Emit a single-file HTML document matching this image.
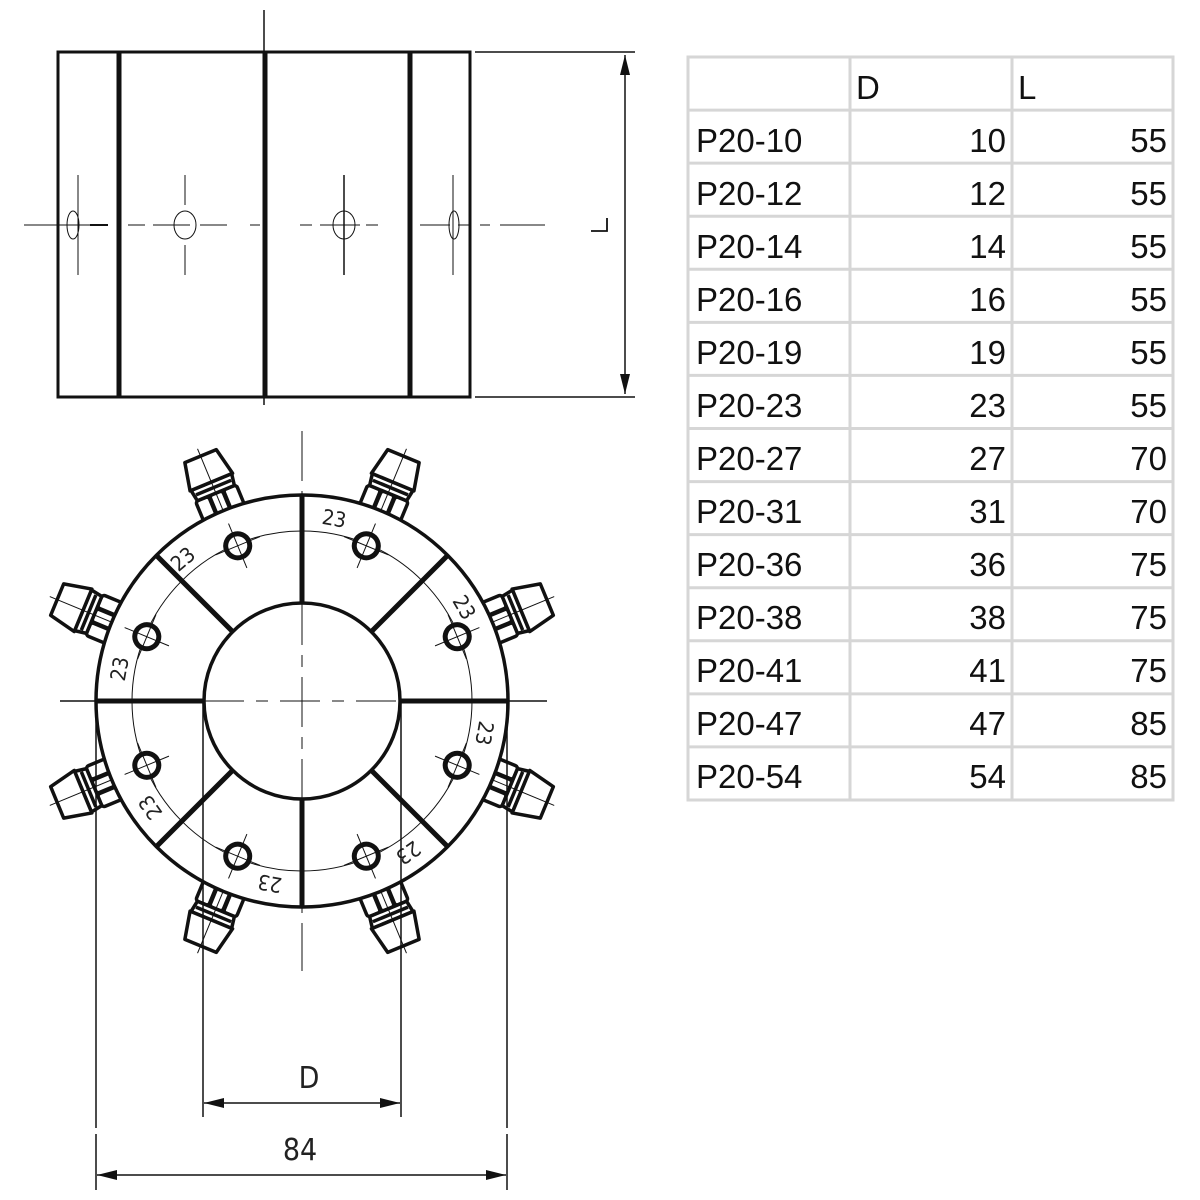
<!DOCTYPE html>
<html><head><meta charset="utf-8"><style>
html,body{margin:0;padding:0;background:#fff;}
svg{display:block;}
</style></head><body>
<svg width="1200" height="1200" viewBox="0 0 1200 1200" xmlns="http://www.w3.org/2000/svg">
<defs>
<g id="bolt" fill="#fff" stroke="#111" stroke-width="3.5" stroke-linejoin="round">
  <rect x="-22" y="-20" width="14" height="22" rx="3"/>
  <rect x="-7" y="-20" width="14" height="22" rx="3"/>
  <rect x="8" y="-20" width="14" height="22" rx="3"/>
  <path d="M-20,-20 L20,-20 L22,-32 L-22,-32 Z"/>
  <line x1="-19" y1="-26" x2="19" y2="-26"/>
  <path d="M-23,-32 L23,-32 L17,-60 L-17,-60 Z"/>
  <line x1="0" y1="-68" x2="0" y2="40" stroke-width="1"/>
</g>
<g id="hole">
  <circle cx="0" cy="0" r="12" fill="#fff" stroke="#111" stroke-width="5"/>
  <line x1="0" y1="-24" x2="0" y2="24" stroke="#111" stroke-width="1"/>
  <line x1="-24" y1="0" x2="24" y2="0" stroke="#111" stroke-width="1"/>
</g>
<marker id="ar" viewBox="0 0 20 10" refX="20" refY="5" markerWidth="20" markerHeight="10" markerUnits="userSpaceOnUse" orient="auto-start-reverse">
  <path d="M0,0 L20,5 L0,10 Z" fill="#111"/>
</marker>
</defs>

<!-- TOP VIEW -->
<g stroke="#111" fill="none">
  <line x1="264" y1="10" x2="264" y2="405" stroke-width="1.5"/>
  <rect x="58" y="52" width="412" height="345" stroke-width="3"/>
  <line x1="119" y1="52" x2="119" y2="397" stroke-width="5"/>
  <line x1="265" y1="52" x2="265" y2="397" stroke-width="5"/>
  <line x1="410" y1="52" x2="410" y2="397" stroke-width="5"/>
  <line x1="475" y1="52" x2="635" y2="52" stroke-width="1.5"/>
  <line x1="475" y1="397" x2="635" y2="397" stroke-width="1.5"/>
  <line x1="625" y1="55" x2="625" y2="394" stroke-width="1.5" marker-start="url(#ar)" marker-end="url(#ar)"/>
  <path d="M591,231 L607,231 L607,218" stroke-width="1.8"/>
  <line x1="24" y1="225" x2="90" y2="225" stroke-width="1"/>
  <line x1="90" y1="225" x2="108" y2="225" stroke-width="2"/>
  <g stroke-width="1">
    <line x1="128" y1="225" x2="145" y2="225"/><line x1="153" y1="225" x2="190" y2="225"/><line x1="200" y1="225" x2="227" y2="225"/>
    <line x1="250" y1="225" x2="260" y2="225"/>
    <line x1="300" y1="225" x2="312" y2="225"/><line x1="320" y1="225" x2="360" y2="225"/><line x1="366" y1="225" x2="378" y2="225"/>
    <line x1="420" y1="225" x2="450" y2="225"/><line x1="458" y1="225" x2="470" y2="225"/>
    <line x1="480" y1="225" x2="490" y2="225"/><line x1="500" y1="225" x2="545" y2="225"/>
    <line x1="78" y1="175" x2="78" y2="275"/>
    <line x1="185" y1="175" x2="185" y2="205"/><line x1="185" y1="245" x2="185" y2="275"/>
    <line x1="453" y1="175" x2="453" y2="275"/>
  </g>
  <line x1="344" y1="175" x2="344" y2="275" stroke-width="1.5"/>
  <ellipse cx="73" cy="225" rx="6" ry="14" stroke-width="1"/>
  <ellipse cx="185" cy="225" rx="11" ry="14" stroke-width="1"/>
  <ellipse cx="344" cy="225" rx="11" ry="14" stroke-width="1"/>
  <ellipse cx="454" cy="225" rx="5" ry="14" stroke-width="1"/>
</g>

<!-- FRONT VIEW -->
<g transform="translate(302,701)">
  <g stroke="#111" fill="none">
    <line x1="0" y1="-270" x2="0" y2="270" stroke-width="1" stroke-dasharray="50,10,12,10"/>
    <line x1="-242" y1="0" x2="245" y2="0" stroke-width="1.5"/>
  </g>
  <use href="#bolt" transform="rotate(-22.5) translate(0,-205)"/>
  <use href="#bolt" transform="rotate(22.5) translate(0,-205)"/>
  <use href="#bolt" transform="rotate(67.5) translate(0,-205)"/>
  <use href="#bolt" transform="rotate(112.5) translate(0,-205)"/>
  <use href="#bolt" transform="rotate(157.5) translate(0,-205)"/>
  <use href="#bolt" transform="rotate(202.5) translate(0,-205)"/>
  <use href="#bolt" transform="rotate(247.5) translate(0,-205)"/>
  <use href="#bolt" transform="rotate(292.5) translate(0,-205)"/>
  <circle cx="0" cy="0" r="206" fill="#fff" stroke="#111" stroke-width="3.5"/>
  <circle cx="0" cy="0" r="98" fill="#fff" stroke="#111" stroke-width="3.5"/>
  <g stroke="#111" fill="none" stroke-width="1">
    <line x1="0" y1="-270" x2="0" y2="270" stroke-dasharray="50,10,12,10"/>
    <line x1="-98" y1="0" x2="98" y2="0" stroke-dasharray="40,12,12,12"/>
    <circle cx="0" cy="0" r="170"/>
  </g>
  <g stroke="#111" stroke-width="5">
    <line x1="0" y1="-206" x2="0" y2="-98"/>
    <line x1="0" y1="206" x2="0" y2="98"/>
    <line x1="-206" y1="0" x2="-98" y2="0"/>
    <line x1="206" y1="0" x2="98" y2="0"/>
    <line x1="-145.7" y1="-145.7" x2="-69.3" y2="-69.3"/>
    <line x1="145.7" y1="-145.7" x2="69.3" y2="-69.3"/>
    <line x1="-145.7" y1="145.7" x2="-69.3" y2="69.3"/>
    <line x1="145.7" y1="145.7" x2="69.3" y2="69.3"/>
  </g>
  <use href="#hole" transform="rotate(-22.5) translate(0,-168)"/>
  <use href="#hole" transform="rotate(22.5) translate(0,-168)"/>
  <use href="#hole" transform="rotate(67.5) translate(0,-168)"/>
  <use href="#hole" transform="rotate(112.5) translate(0,-168)"/>
  <use href="#hole" transform="rotate(157.5) translate(0,-168)"/>
  <use href="#hole" transform="rotate(202.5) translate(0,-168)"/>
  <use href="#hole" transform="rotate(247.5) translate(0,-168)"/>
  <use href="#hole" transform="rotate(292.5) translate(0,-168)"/>
  <g font-family="'DejaVu Sans Condensed','Liberation Sans',sans-serif" font-size="21" fill="#222" text-anchor="middle">
    <text transform="rotate(10) translate(0,-178)">23</text>
    <text transform="rotate(-40) translate(0,-178)">23</text>
    <text transform="rotate(-80) translate(0,-178)">23</text>
    <text transform="rotate(60) translate(0,-180)">23</text>
    <text transform="rotate(100) translate(0,-178)">23</text>
    <text transform="rotate(145) translate(0,-178)">23</text>
    <text transform="rotate(190) translate(0,-178)">23</text>
    <text transform="rotate(235) translate(0,-178)">23</text>
  </g>
</g>

<!-- bottom dims -->
<g stroke="#111" stroke-width="1.5" fill="none">
  <line x1="96" y1="701" x2="96" y2="1128"/><line x1="96" y1="1134" x2="96" y2="1190"/>
  <line x1="507" y1="701" x2="507" y2="1128"/><line x1="507" y1="1134" x2="507" y2="1190"/>
  <line x1="203" y1="701" x2="203" y2="1117"/>
  <line x1="401" y1="701" x2="401" y2="1117"/>
  <line x1="204" y1="1103" x2="400" y2="1103" marker-start="url(#ar)" marker-end="url(#ar)"/>
  <line x1="97" y1="1175" x2="506" y2="1175" marker-start="url(#ar)" marker-end="url(#ar)"/>
</g>
<g font-family="'DejaVu Sans Condensed','Liberation Sans',sans-serif" font-size="30" fill="#222" text-anchor="middle">
  <text x="309" y="1088">D</text>
  <text x="300" y="1160">84</text>
</g>

<!-- TABLE -->
<g stroke="#d6d6d6" stroke-width="3" fill="none">
  <rect x="688" y="57" width="485" height="743"/>
  <line x1="850" y1="57" x2="850" y2="800"/>
  <line x1="1012" y1="57" x2="1012" y2="800"/>
  <line x1="688" y1="110.1" x2="1173" y2="110.1"/>
  <line x1="688" y1="163.1" x2="1173" y2="163.1"/>
  <line x1="688" y1="216.2" x2="1173" y2="216.2"/>
  <line x1="688" y1="269.3" x2="1173" y2="269.3"/>
  <line x1="688" y1="322.4" x2="1173" y2="322.4"/>
  <line x1="688" y1="375.4" x2="1173" y2="375.4"/>
  <line x1="688" y1="428.5" x2="1173" y2="428.5"/>
  <line x1="688" y1="481.6" x2="1173" y2="481.6"/>
  <line x1="688" y1="534.6" x2="1173" y2="534.6"/>
  <line x1="688" y1="587.7" x2="1173" y2="587.7"/>
  <line x1="688" y1="640.8" x2="1173" y2="640.8"/>
  <line x1="688" y1="693.9" x2="1173" y2="693.9"/>
  <line x1="688" y1="746.9" x2="1173" y2="746.9"/>
</g>
<g font-family="'Liberation Sans',sans-serif" font-size="33" fill="#111">
  <text x="856" y="99">D</text><text x="1018" y="99">L</text>
  <g>
    <text x="696" y="152">P20-10</text><text x="696" y="205">P20-12</text><text x="696" y="258">P20-14</text>
    <text x="696" y="311">P20-16</text><text x="696" y="364">P20-19</text><text x="696" y="417">P20-23</text>
    <text x="696" y="470">P20-27</text><text x="696" y="523">P20-31</text><text x="696" y="576">P20-36</text>
    <text x="696" y="629">P20-38</text><text x="696" y="682">P20-41</text><text x="696" y="735">P20-47</text>
    <text x="696" y="788">P20-54</text>
  </g>
  <g text-anchor="end">
    <text x="1006" y="152">10</text><text x="1006" y="205">12</text><text x="1006" y="258">14</text>
    <text x="1006" y="311">16</text><text x="1006" y="364">19</text><text x="1006" y="417">23</text>
    <text x="1006" y="470">27</text><text x="1006" y="523">31</text><text x="1006" y="576">36</text>
    <text x="1006" y="629">38</text><text x="1006" y="682">41</text><text x="1006" y="735">47</text>
    <text x="1006" y="788">54</text>
    <text x="1167" y="152">55</text><text x="1167" y="205">55</text><text x="1167" y="258">55</text>
    <text x="1167" y="311">55</text><text x="1167" y="364">55</text><text x="1167" y="417">55</text>
    <text x="1167" y="470">70</text><text x="1167" y="523">70</text><text x="1167" y="576">75</text>
    <text x="1167" y="629">75</text><text x="1167" y="682">75</text><text x="1167" y="735">85</text>
    <text x="1167" y="788">85</text>
  </g>
</g>
</svg>
</body></html>
